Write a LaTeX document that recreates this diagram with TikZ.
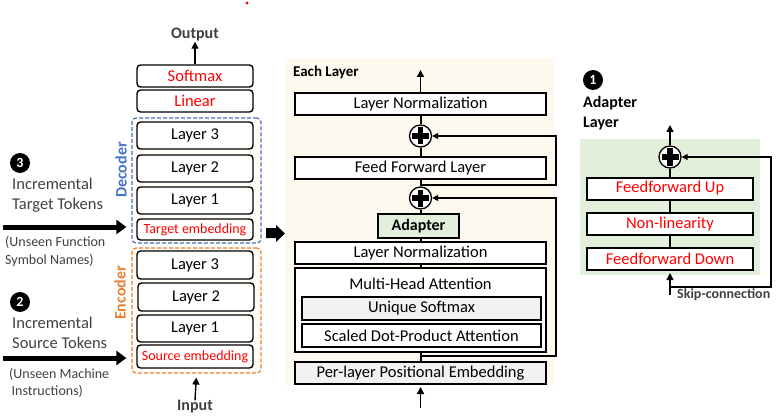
\documentclass[tikz,border=0pt]{standalone}
\usepackage{fontspec}
\setmainfont{Carlito}
\usetikzlibrary{arrows.meta,fit}
\definecolor{decblue}{HTML}{4472C4}
\definecolor{encorange}{HTML}{ED7D31}
\definecolor{txtgray}{HTML}{404040}
\definecolor{cream}{HTML}{FEF9EE}
\definecolor{lightcream}{HTML}{FFFCF6}
\definecolor{adgreen}{HTML}{E2EFDA}
\definecolor{boxgray}{HTML}{F2F2F2}
\tikzset{every node/.style={font=\fontsize{16.5}{19}\selectfont, inner sep=0pt},
  lbox/.style={draw, rounded corners=3.5pt, line width=1.4pt, fill=white, minimum width=116pt},
  mbox/.style={draw, line width=2pt, fill=white, minimum width=251pt, minimum height=22pt},
  abox/.style={draw, line width=2pt, fill=white, minimum width=166pt, minimum height=22pt, text=red},
  frame/.style={draw, dash pattern=on 4pt off 2pt, rounded corners=4pt, line width=1.2pt, fill=lightcream},
  plus/.style={circle, draw, line width=1.3pt, fill=white, minimum size=22pt,
    path picture={\fill[black] ([xshift=-8.5pt,yshift=-2.6pt]path picture bounding box.center) rectangle ([xshift=8.5pt,yshift=2.6pt]path picture bounding box.center);
                  \fill[black] ([xshift=-2.6pt,yshift=-8.5pt]path picture bounding box.center) rectangle ([xshift=2.6pt,yshift=8.5pt]path picture bounding box.center);}},
  num/.style={circle, fill=black, text=white, font=\bfseries\fontsize{14}{14}\selectfont, minimum size=20pt},
  conn/.style={line width=2pt},
  arr/.style={line width=1.4pt, -{Triangle[length=7pt,width=7pt]}},
  skip/.style={line width=1.4pt, -{Triangle[length=6pt,width=6pt]}},
  bigarr/.style={line width=5pt, -{Triangle[length=10pt,width=14pt]}, shorten >=5pt}}

\begin{document}
\begin{tikzpicture}[x=1pt,y=-1pt]
   \useasboundingbox (0,0) rectangle (779,417);
   \fill[red] (247,3) circle (1.6pt);
   \begin{scope}
    \node[frame, draw=decblue, fit={(132,118) (261,243)}] (dec) {};
    \node[frame, draw=encorange, fit={(132,248) (261,373)}] (enc) {};
    \node[rotate=90, text=decblue, font=\bfseries\fontsize{16}{19}\selectfont] (declab) at (121,170) {Decoder};
    \node[rotate=90, text=encorange, font=\bfseries\fontsize{16}{19}\selectfont] (enclab) at (120,293) {Encoder};
    \node[lbox, minimum height=22pt, text=red] (softmax) at (195,76) {Softmax};
    \node[lbox, minimum height=22pt, text=red] (linear) at (195,101) {Linear};
    \node[lbox, minimum height=27pt] (dl3) at (195,135.5) {Layer 3};
    \node[lbox, minimum height=27pt] (dl2) at (195,168.5) {Layer 2};
    \node[lbox, minimum height=27pt] (dl1) at (195,200.5) {Layer 1};
    \node[lbox, minimum height=21pt, text=red, font=\fontsize{14}{17}\selectfont] (tgtemb) at (195,229.5) {Target embedding};
    \node[lbox, minimum height=28pt] (el3) at (195,265) {Layer 3};
    \node[lbox, minimum height=28pt] (el2) at (196,297) {Layer 2};
    \node[lbox, minimum height=27pt] (el1) at (195,328.5) {Layer 1};
    \node[lbox, minimum height=23pt, text=red, font=\fontsize{14}{17}\selectfont] (srcemb) at (195,356.5) {Source embedding};
    \node[text=txtgray, font=\bfseries\fontsize{16}{19}\selectfont] (outlab) at (195,35) {Output};
    \node[text=txtgray, font=\bfseries\fontsize{16}{19}\selectfont] (inlab) at (195,407) {Input};
    \draw[arr] (softmax.north) -- (outlab.south);
    \draw[arr, shorten >=4pt] (inlab.north) -- (enc.south);
    \node[num] (n3) at (20,163) {3};
    \node[num] (n2) at (20,302) {2};
    \node[anchor=west, align=left, text=txtgray, font=\fontsize{16.5}{20}\selectfont] (tgtlab) at (12,195) {Incremental\\Target Tokens};
    \node[anchor=west, align=left, text=txtgray, font=\fontsize{14}{17.5}\selectfont] (tgtnote) at (5,251.5) {(Unseen Function\\Symbol Names)};
    \node[anchor=west, align=left, text=txtgray, font=\fontsize{16.5}{20}\selectfont] (srclab) at (12,333) {Incremental\\Source Tokens};
    \node[anchor=west, align=left, text=txtgray, font=\fontsize{14}{17.5}\selectfont] (srcnote) at (9,383) {(Unseen Machine\\\hspace*{2.5pt}Instructions)};
    \coordinate (tgtin) at (3,227);
    \coordinate (srcin) at (3,358);
    \draw[bigarr] (tgtin) -- (tgtin -| dec.west);
    \draw[bigarr] (srcin) -- (srcin -| enc.west);
   \end{scope}
   \fill (266,228) -- (276,228) -- (276,225) -- (285,233.5) -- (276,242) -- (276,238) -- (266,238) -- cycle;
   \begin{scope}
    \fill[cream] (285,58) rectangle (555,385);
    \node[anchor=west, font=\bfseries\fontsize{15}{18}\selectfont] (eachlab) at (293,72) {Each Layer};
    \node[mbox] (lnA) at (420.5,104) {Layer Normalization};
    \node[plus] (plusA) at (420.5,136) {};
    \node[mbox] (ffl) at (420.5,168) {Feed Forward Layer};
    \node[plus] (plusB) at (420.5,198) {};
    \node[draw, line width=2pt, fill=adgreen, minimum width=81pt, minimum height=24pt, font=\bfseries\fontsize{16}{19}\selectfont] (adapter) at (418.5,226) {Adapter};
    \node[mbox] (lnB) at (420.5,253) {Layer Normalization};
    \node[mbox, minimum height=84pt] (mha) at (420.5,310) {};
    \node (mhalab) at (420.5,284) {Multi-Head Attention};
    \node[draw, line width=2pt, fill=boxgray, minimum width=239pt, minimum height=23pt] (usm) at (421.5,308.5) {Unique Softmax};
    \node[draw, line width=2pt, fill=white, minimum width=239pt, minimum height=23pt] (sdpa) at (421.5,335.5) {Scaled Dot-Product Attention};
    \node[mbox, fill=boxgray] (ple) at (420.5,373) {Per-layer Positional Embedding};
    \coordinate (outA) at (420.5,70);
    \coordinate (inA) at (420.5,408);
    \coordinate (fork1) at (420.5,185);
    \coordinate (fork2) at (420.5,356);
    \coordinate (rail) at (556,0);
    \draw[conn] (lnA.south) -- (plusA.north);
    \draw[conn] (plusA.south) -- (ffl.north);
    \draw[conn] (ffl.south) -- (plusB.north);
    \draw[conn] (plusB.south) -- (adapter.north -| plusB.south);
    \draw[conn] (adapter.south -| lnB.north) -- (lnB.north);
    \draw[conn] (lnB.south) -- (mha.north);
    \draw[conn] (mha.south) -- (ple.north);
    \draw[arr] (lnA.north) -- (outA);
    \draw[arr, shorten >=2pt] (inA) -- (ple.south);
    \draw[skip] (fork1) -- (fork1 -| rail) |- (plusA.east);
    \draw[skip] (fork2) -- (fork2 -| rail) |- (plusB.east);
   \end{scope}
   \begin{scope}
    \node[num] (n1) at (593,80) {1};
    \node[anchor=west, align=left, font=\bfseries\fontsize{16}{20}\selectfont] (adlab) at (583,113) {Adapter\\Layer};
    \fill[adgreen] (580,139) rectangle (760,275);
    \node[plus] (plusC) at (670,157) {};
    \node[abox] (fup) at (670,188.5) {Feedforward Up};
    \node[abox] (nonlin) at (670,224) {Non-linearity};
    \node[abox] (fdown) at (670,259) {Feedforward Down};
    \node[anchor=west, text=txtgray, font=\bfseries\fontsize{14}{17}\selectfont] (skiplab) at (677,295) {Skip-connection};
    \coordinate (outC) at (670,125);
    \coordinate (inC) at (670,295);
    \coordinate (fork3) at (670,287);
    \coordinate (rail3) at (771,0);
    \draw[conn] (fdown.north) -- (nonlin.south);
    \draw[conn] (nonlin.north) -- (fup.south);
    \draw[conn] (fup.north) -- (plusC.south);
    \draw[arr] (plusC.north) -- (outC);
    \draw[arr, shorten >=2pt] (inC) -- (fdown.south);
    \draw[skip] (fork3) -- (fork3 -| rail3) |- (plusC.east);
   \end{scope}
\end{tikzpicture}
\end{document}
